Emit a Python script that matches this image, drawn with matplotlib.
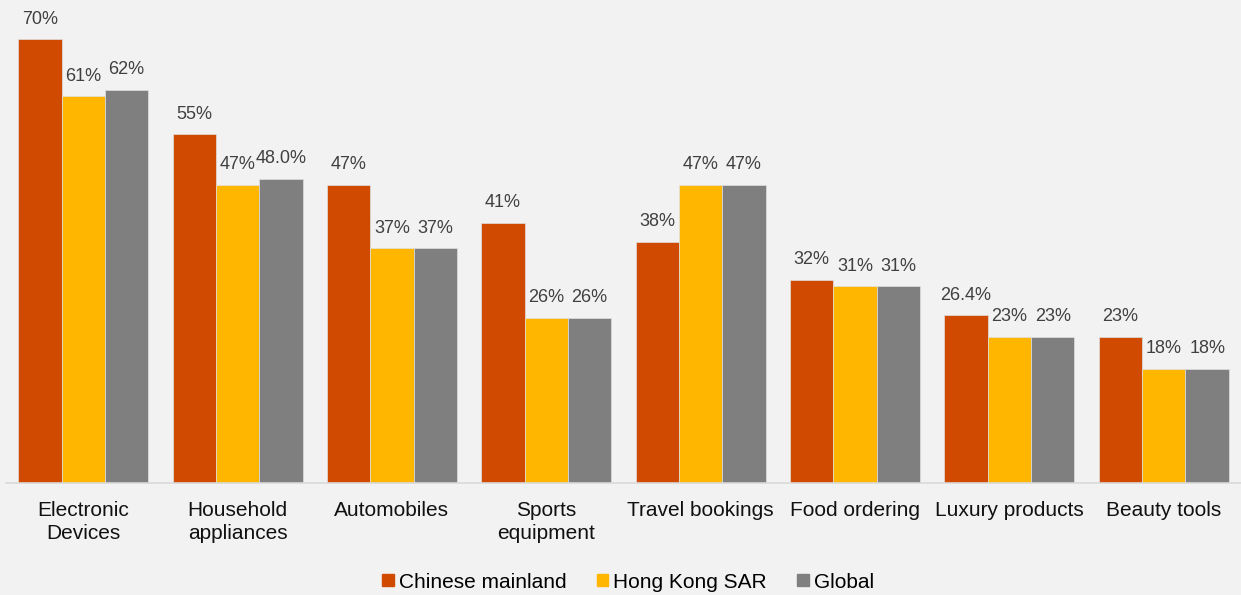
import matplotlib
matplotlib.use('Agg')
import matplotlib.pyplot as plt
import matplotlib.patches as mpatches
import numpy as np

plt.rcParams['font.family'] = ['Liberation Sans', 'DejaVu Sans']

# 品目別の回答率（%）
categories = ['Electronic\nDevices', 'Household\nappliances', 'Automobiles',
              'Sports\nequipment', 'Travel bookings', 'Food ordering',
              'Luxury products', 'Beauty tools']
series_names = ['Chinese mainland', 'Hong Kong SAR', 'Global']
mainland = [70, 55, 47, 41, 38, 32, 26.4, 23]
hongkong = [61, 47, 37, 26, 47, 31, 23, 18]
global_ = [62, 48.0, 37, 26, 47, 31, 23, 18]
labels_mainland = ['70%', '55%', '47%', '41%', '38%', '32%', '26.4%', '23%']
labels_hongkong = ['61%', '47%', '37%', '26%', '47%', '31%', '23%', '18%']
labels_global = ['62%', '48.0%', '37%', '26%', '47%', '31%', '23%', '18%']

colors = ['#D04A02', '#FFB600', '#7F7F7F']
bg = '#F2F2F2'

fig = plt.figure(figsize=(12.41, 5.95), dpi=100, facecolor=bg)
ax = fig.add_axes([6 / 1241, 1 - 482.7 / 595, 1235 / 1241, 482.7 / 595])
ax.set_facecolor(bg)

x = np.arange(len(categories))
w = 0.2807
all_vals = [mainland, hongkong, global_]
all_labels = [labels_mainland, labels_hongkong, labels_global]
for k in range(3):
    pos = x + (k - 1) * w
    ax.bar(pos, all_vals[k], width=w, color=colors[k],
           edgecolor='#E0E0E0', linewidth=0.5, zorder=2)
    for xi, v, lab in zip(pos, all_vals[k], all_labels[k]):
        ax.annotate(lab, (xi, v), xytext=(0, 11.3), textcoords='offset points',
                    ha='center', va='baseline', fontsize=13, color='#404040')

ax.set_xlim(-0.5, len(categories) - 0.5)
ax.set_ylim(0, 76.2)
ax.set_yticks([])
ax.set_xticks(x)
ax.set_xticklabels(categories, fontsize=15, color='#111111', linespacing=1.25)
ax.tick_params(axis='x', length=0, pad=13.5)
for side in ['top', 'left', 'right']:
    ax.spines[side].set_visible(False)
ax.spines['bottom'].set_color('#D9D9D9')
ax.spines['bottom'].set_linewidth(1.2)

handles = [mpatches.Patch(color=c, label=n) for c, n in zip(colors, series_names)]
fig.legend(handles=handles, loc='center', bbox_to_anchor=(628 / 1241, 1 - 582 / 595),
           ncol=3, frameon=False, fontsize=15, handlelength=0.55, handleheight=0.55,
           handletextpad=0.25, columnspacing=1.45, borderaxespad=0)

fig.savefig('out.png', dpi=100, facecolor=bg)
